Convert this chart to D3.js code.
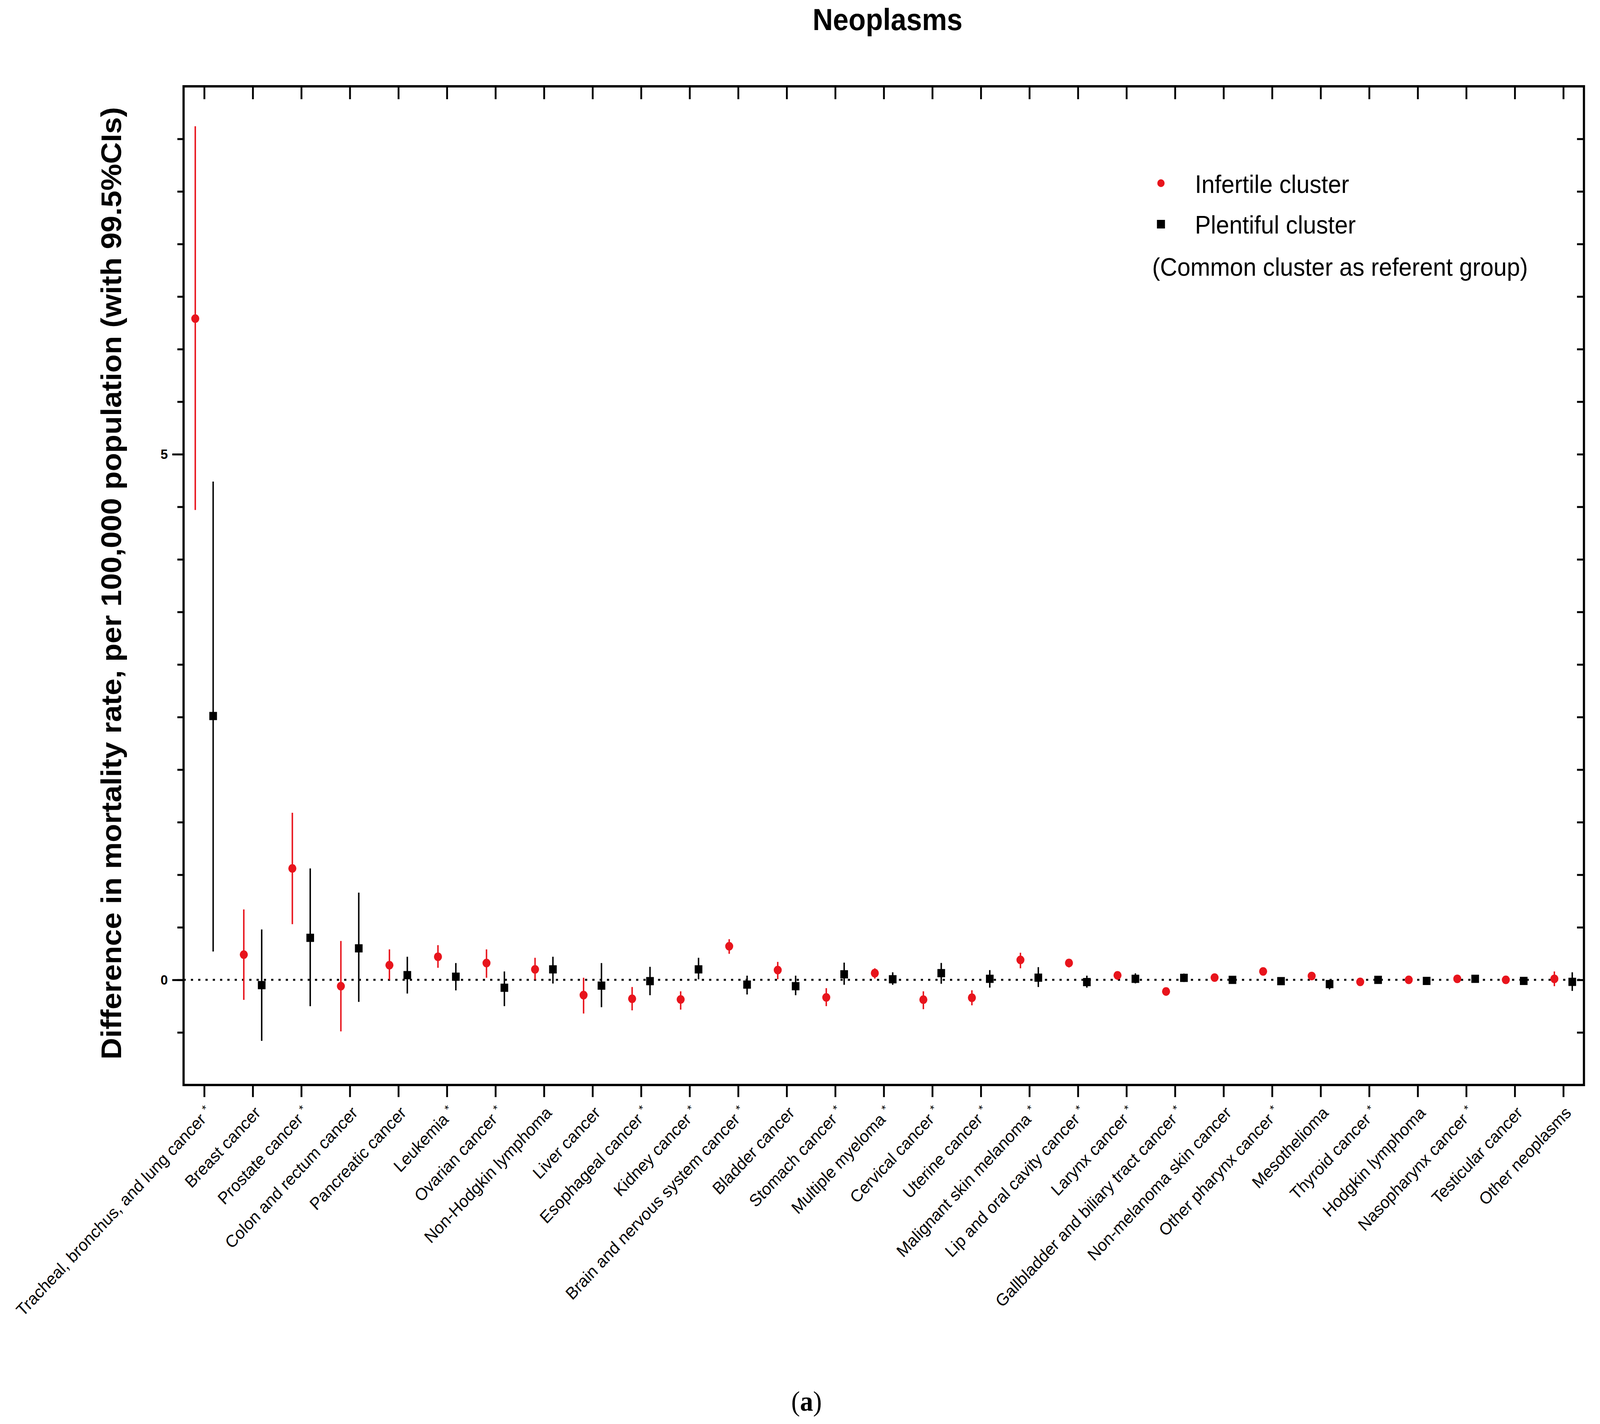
<!DOCTYPE html>
<html>
<head>
<meta charset="utf-8">
<script src="https://cdn.jsdelivr.net/npm/d3@7"></script>
<style>
  html, body { margin: 0; padding: 0; background: #fff; overflow: hidden; }
  svg { display: block; width: 100vw; height: 100vh; font-family: "Liberation Sans", Arial, sans-serif; }
</style>
</head>
<body>
<div id="chart"></div>
<script>
// ---- data ----
const categories = [
  "Tracheal, bronchus, and lung cancer", "Breast cancer", "Prostate cancer",
  "Colon and rectum cancer", "Pancreatic cancer", "Leukemia", "Ovarian cancer",
  "Non-Hodgkin lymphoma", "Liver cancer", "Esophageal cancer", "Kidney cancer",
  "Brain and nervous system cancer", "Bladder cancer", "Stomach cancer",
  "Multiple myeloma", "Cervical cancer", "Uterine cancer", "Malignant skin melanoma",
  "Lip and oral cavity cancer", "Larynx cancer", "Gallbladder and biliary tract cancer",
  "Non-melanoma skin cancer", "Other pharynx cancer", "Mesothelioma", "Thyroid cancer",
  "Hodgkin lymphoma", "Nasopharynx cancer", "Testicular cancer", "Other neoplasms"
];
// categories marked with an asterisk
const starred = [1, 0, 1, 0, 0, 1, 1, 0, 0, 1, 1, 1, 0, 1, 1, 1, 1, 1, 1, 1, 1, 0, 1, 0, 1, 0, 1, 0, 0];

// Infertile cluster: estimate with lower / upper 99.5% CI
const infertileMean = [6.29, 0.24, 1.06, -0.06, 0.14, 0.22, 0.16, 0.10, -0.145, -0.18, -0.186, 0.32, 0.093, -0.167, 0.064, -0.188, -0.17, 0.19, 0.161, 0.043, -0.11, 0.022, 0.08, 0.037, -0.019, 0.0, 0.01, 0.0, 0.01];
const infertileLow  = [4.47, -0.19, 0.53, -0.49, 0.0, 0.115, 0.02, 0.0, -0.32, -0.29, -0.283, 0.248, 0.006, -0.25, 0.012, -0.279, -0.242, 0.11, 0.118, 0.0, -0.151, -0.01, 0.05, 0.01, -0.04, -0.02, -0.01, -0.02, -0.06];
const infertileHigh = [8.12, 0.67, 1.59, 0.37, 0.29, 0.33, 0.29, 0.21, 0.02, -0.068, -0.109, 0.387, 0.171, -0.079, 0.11, -0.109, -0.099, 0.258, 0.20, 0.08, -0.072, 0.05, 0.11, 0.065, 0.0, 0.02, 0.03, 0.02, 0.08];

// Plentiful cluster
const plentifulMean = [2.51, -0.05, 0.40, 0.30, 0.045, 0.03, -0.075, 0.10, -0.055, -0.012, 0.10, -0.045, -0.06, 0.053, 0.006, 0.064, 0.01, 0.021, -0.021, 0.01, 0.019, 0.0, -0.012, -0.04, 0.0, -0.01, 0.01, -0.01, -0.019];
const plentifulLow  = [0.27, -0.58, -0.25, -0.21, -0.13, -0.10, -0.25, -0.035, -0.26, -0.146, 0.005, -0.139, -0.146, -0.047, -0.047, -0.037, -0.074, -0.068, -0.074, -0.033, -0.02, -0.03, -0.04, -0.09, -0.03, -0.03, -0.02, -0.03, -0.105];
const plentifulHigh = [4.74, 0.48, 1.06, 0.83, 0.22, 0.16, 0.08, 0.22, 0.16, 0.124, 0.21, 0.04, 0.04, 0.164, 0.072, 0.161, 0.093, 0.121, 0.04, 0.062, 0.06, 0.03, 0.02, 0.0, 0.03, 0.01, 0.04, 0.01, 0.072];

const yMajorTicks = [0, 5];
const yMinorTicks = [-0.5, 0, 0.5, 1, 1.5, 2, 2.5, 3, 3.5, 4, 4.5, 5, 5.5, 6, 6.5, 7, 7.5, 8];

const legendItems = ["Infertile cluster", "Plentiful cluster"];
const legendNote = "(Common cluster as referent group)";
const titleText = "Neoplasms";
const yLabel = "Difference in mortality rate, per 100,000 population (with 99.5%CIs)";

// ---- layout ----
const WIDTH = 4384, HEIGHT = 3646;
const plot = { left: 503, right: 4340, top: 221, bottom: 2778 };
const RED = "#e8141c";
const DODGE = 24.5;   // horizontal shift of each series from the tick

const rows = categories.map((name, i) => ({
  name,
  star: starred[i] === 1,
  infertile: { mean: infertileMean[i], lo: infertileLow[i], hi: infertileHigh[i] },
  plentiful: { mean: plentifulMean[i], lo: plentifulLow[i], hi: plentifulHigh[i] }
}));

// drawn in reference units, stretched to fill whatever the window really is
const svg = d3.select("#chart")
  .append("svg")
  .attr("viewBox", `0 0 ${WIDTH} ${HEIGHT}`)
  .attr("preserveAspectRatio", "none");

svg.append("rect").attr("width", WIDTH).attr("height", HEIGHT).attr("fill", "#fff");

const x = d3.scalePoint()
  .domain(categories)
  .range([plot.left, plot.right])
  .padding(0.425);

const y = d3.scaleLinear()
  .domain([-1, 8.5])
  .range([plot.bottom, plot.top]);

// reference line at zero
svg.append("line")
  .attr("x1", plot.left).attr("x2", plot.right)
  .attr("y1", y(0)).attr("y2", y(0))
  .attr("stroke", "#000")
  .attr("stroke-width", 5)
  .attr("stroke-dasharray", "6 14");

// error bars + markers
const series = [
  { key: "infertile", color: RED, shift: -DODGE, shape: "circle" },
  { key: "plentiful", color: "#000", shift: DODGE, shape: "square" }
];

series.forEach(s => {
  const g = svg.append("g").attr("class", "series-" + s.key);

  g.selectAll("line")
    .data(rows)
    .join("line")
    .attr("x1", d => x(d.name) + s.shift)
    .attr("x2", d => x(d.name) + s.shift)
    .attr("y1", d => y(d[s.key].lo))
    .attr("y2", d => y(d[s.key].hi))
    .attr("stroke", s.color)
    .attr("stroke-width", 4);

  if (s.shape === "circle") {
    g.selectAll("circle")
      .data(rows)
      .join("circle")
      .attr("cx", d => x(d.name) + s.shift)
      .attr("cy", d => y(d[s.key].mean))
      .attr("r", 11)
      .attr("fill", s.color);
  } else {
    g.selectAll("rect")
      .data(rows)
      .join("rect")
      .attr("x", d => x(d.name) + s.shift - 10.5)
      .attr("y", d => y(d[s.key].mean) - 10.5)
      .attr("width", 21)
      .attr("height", 21)
      .attr("fill", s.color);
  }
});

// axes
function plainAxis(g) {
  g.select(".domain").remove();
  g.selectAll(".tick line").attr("stroke", "#000").attr("stroke-width", 5);
}

svg.append("g")
  .attr("transform", `translate(0,${plot.bottom})`)
  .call(d3.axisBottom(x).tickSize(31).tickFormat(""))
  .call(plainAxis);

svg.append("g")
  .attr("transform", `translate(0,${plot.top})`)
  .call(d3.axisBottom(x).tickSize(33).tickFormat(""))
  .call(plainAxis);

svg.append("g")
  .attr("transform", `translate(${plot.left},0)`)
  .call(d3.axisLeft(y).tickValues(yMinorTicks).tickSize(17).tickFormat(""))
  .call(plainAxis);

svg.append("g")
  .attr("transform", `translate(${plot.left},0)`)
  .call(d3.axisLeft(y).tickValues(yMajorTicks).tickSize(31).tickPadding(12).tickFormat(d3.format("d")))
  .call(plainAxis)
  .call(g => g.selectAll(".tick text")
    .attr("font-family", '"Liberation Sans", Arial, sans-serif')
    .attr("font-size", 36)
    .attr("font-weight", "bold")
    .attr("fill", "#000"));

svg.append("g")
  .attr("transform", `translate(${plot.right},0)`)
  .call(d3.axisLeft(y).tickValues(yMinorTicks).tickSize(19).tickFormat(""))
  .call(plainAxis);

// frame
svg.append("rect")
  .attr("x", plot.left).attr("y", plot.top)
  .attr("width", plot.right - plot.left)
  .attr("height", plot.bottom - plot.top)
  .attr("fill", "none")
  .attr("stroke", "#000")
  .attr("stroke-width", 6);

// rotated category labels
const labels = svg.append("g").attr("class", "x-labels")
  .selectAll("text")
  .data(rows)
  .join("text")
  .attr("transform", d => `translate(${x(d.name) + 24},${plot.bottom + 74}) rotate(-45)`)
  .attr("text-anchor", "end")
  .attr("font-size", 44)
  .attr("fill", "#000")
  .text(d => d.star ? d.name + " " : d.name);

labels.filter(d => d.star)
  .append("tspan")
  .attr("font-size", 30)
  .attr("dy", -14)
  .text("*");

// title
svg.append("text")
  .attr("x", 2432).attr("y", 77)
  .attr("text-anchor", "middle")
  .attr("font-size", 77)
  .attr("font-weight", "bold")
  .text(titleText);

// y-axis title
svg.append("text")
  .attr("transform", `translate(332,${(plot.top + plot.bottom) / 2 - 6}) rotate(-90)`)
  .attr("text-anchor", "middle")
  .attr("font-size", 77)
  .attr("font-weight", "bold")
  .text(yLabel);

// legend
const legend = svg.append("g").attr("transform", "translate(3181,0)");
legend.append("circle").attr("cx", 0).attr("cy", 469).attr("r", 10).attr("fill", RED);
legend.append("rect").attr("x", -11).attr("y", 563).attr("width", 22).attr("height", 22).attr("fill", "#000");
legend.selectAll("text.item")
  .data(legendItems)
  .join("text")
  .attr("class", "item")
  .attr("x", 93)
  .attr("y", (d, i) => 494 + i * 104)
  .attr("font-size", 65)
  .text(d => d);
legend.append("text")
  .attr("x", -24).attr("y", 706)
  .attr("font-size", 65)
  .text(legendNote);

// panel caption
const caption = svg.append("text")
  .attr("x", 2210).attr("y", 3612)
  .attr("text-anchor", "middle")
  .attr("font-family", '"Liberation Serif", "Times New Roman", serif')
  .attr("font-size", 72);
caption.append("tspan").text("(");
caption.append("tspan").attr("font-weight", "bold").text("a");
caption.append("tspan").text(")");
</script>
</body>
</html>
